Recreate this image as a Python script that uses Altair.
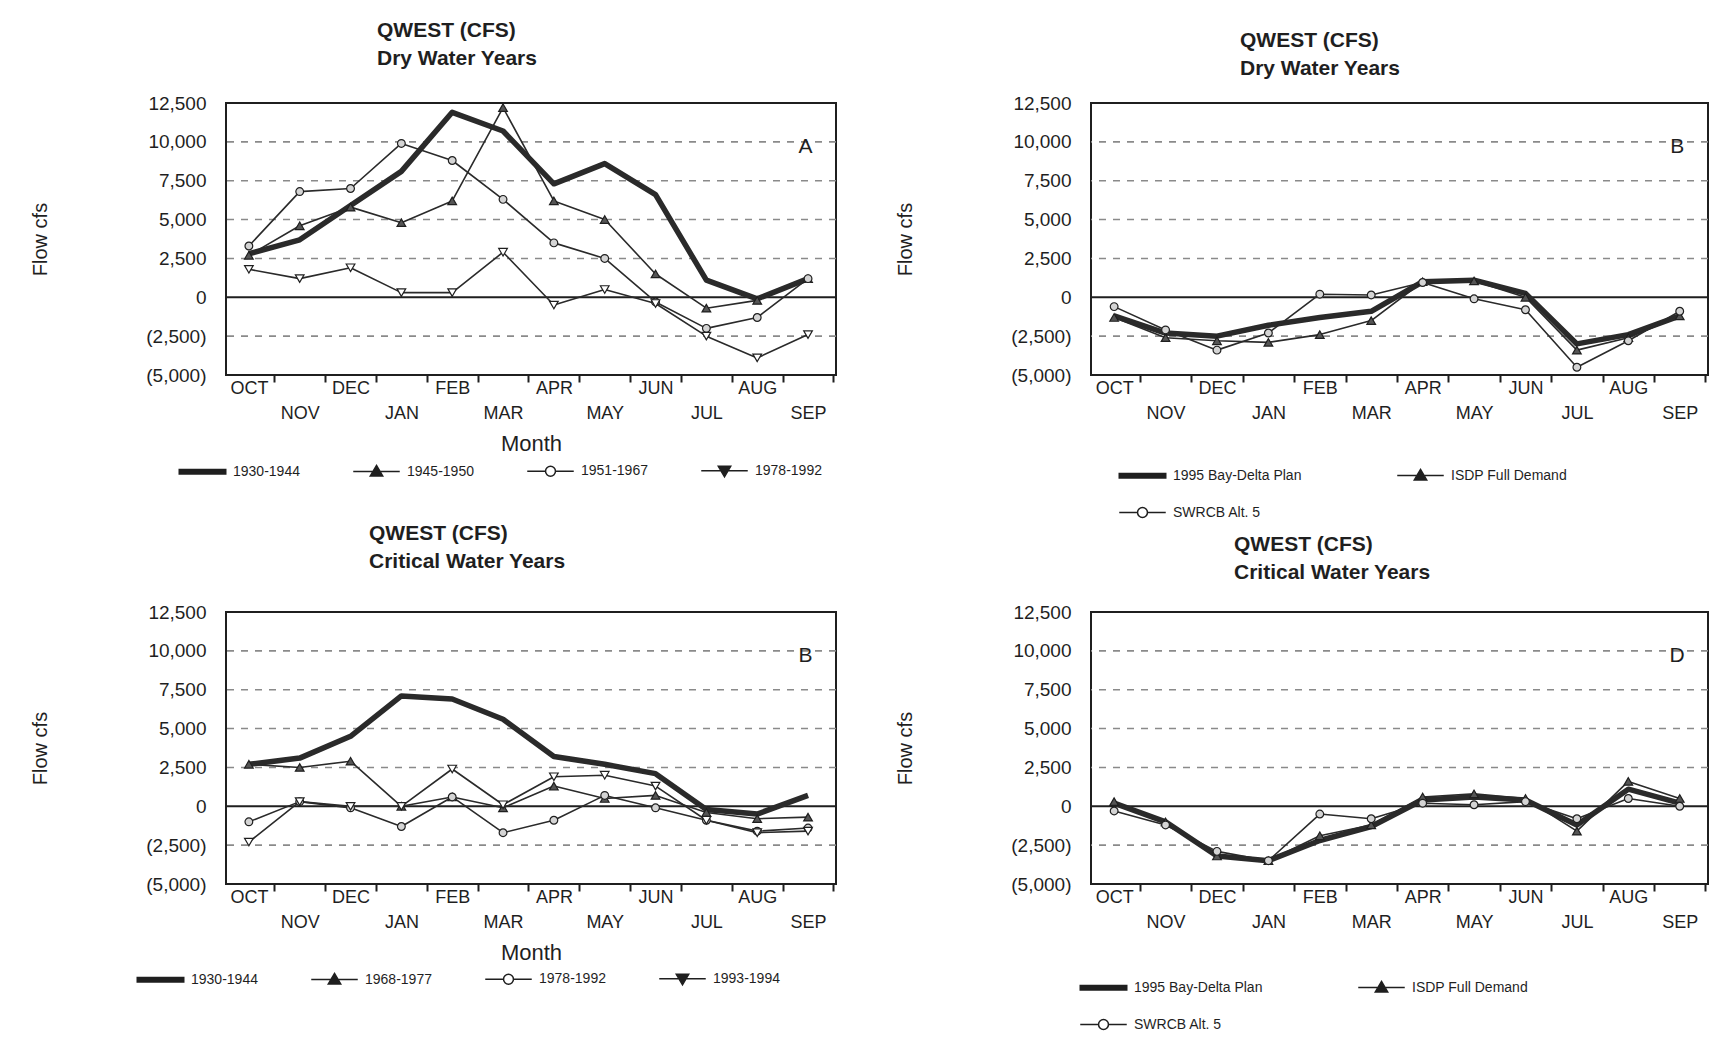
import altair as alt
import pandas as pd

MONTHS = ["OCT", "NOV", "DEC", "JAN", "FEB", "MAR", "APR", "MAY", "JUN", "JUL", "AUG", "SEP"]
Y_TICKS = [-5000, -2500, 0, 2500, 5000, 7500, 10000, 12500]
GRID_LINES = [-2500, 2500, 5000, 7500, 10000]
ZERO_LINE = [0]

A_SERIES = ["1930-1944", "1945-1950", "1951-1967", "1978-1992"]
A_1930_1944 = [2800, 3700, 5900, 8100, 11900, 10700, 7300, 8600, 6600, 1100, -100, 1200]
A_1945_1950 = [2700, 4600, 5800, 4800, 6200, 12200, 6200, 5000, 1500, -700, -200, 1200]
A_1951_1967 = [3300, 6800, 7000, 9900, 8800, 6300, 3500, 2500, -300, -2000, -1300, 1200]
A_1978_1992 = [1800, 1200, 1900, 300, 300, 2900, -500, 500, -400, -2500, -3900, -2400]

B_SERIES = ["1995 Bay-Delta Plan", "ISDP Full Demand", "SWRCB Alt. 5"]
B_BAY_DELTA = [-1200, -2300, -2500, -1800, -1300, -900, 1000, 1100, 250, -3000, -2400, -1200]
B_ISDP = [-1300, -2600, -2800, -2900, -2400, -1500, 1000, 1050, 0, -3400, -2600, -1200]
B_SWRCB = [-600, -2100, -3400, -2300, 200, 150, 950, -100, -800, -4500, -2800, -900]

C_SERIES = ["1930-1944", "1968-1977", "1978-1992", "1993-1994"]
C_1930_1944 = [2700, 3100, 4500, 7100, 6900, 5600, 3200, 2700, 2100, -200, -500, 700]
C_1968_1977 = [2700, 2500, 2900, 0, 600, -100, 1300, 500, 700, -400, -800, -700]
C_1978_1992 = [-1000, 300, -100, -1300, 600, -1700, -900, 700, -100, -900, -1600, -1400]
C_1993_1994 = [-2300, 300, 0, 0, 2400, 100, 1900, 2000, 1300, -900, -1700, -1600]

D_SERIES = ["1995 Bay-Delta Plan", "ISDP Full Demand", "SWRCB Alt. 5"]
D_BAY_DELTA = [200, -1000, -3200, -3500, -2200, -1300, 400, 600, 400, -1200, 1100, 200]
D_ISDP = [300, -1000, -3200, -3500, -1900, -1200, 600, 800, 500, -1600, 1600, 500]
D_SWRCB = [-300, -1200, -2900, -3500, -500, -800, 200, 100, 300, -800, 500, 0]

FONT = "Liberation Sans"
INK = "#1f1f1f"

# legend symbols (custom paths in Vega's -1..1 symbol box) and on-chart marker styles
LEGEND_PATH = {
    "bar": "M-1.5,-0.14H1.5V0.14H-1.5Z",
    "tri_up": "M-1.5,0H1.5M0,-0.4L0.4,0.28L-0.4,0.28Z",
    "circle": "M-1.5,0H-0.32M0.32,0H1.5M-0.32,0A0.32,0.32,0,1,1,0.32,0A0.32,0.32,0,1,1,-0.32,0Z",
    "tri_down": "M-1.5,0H1.5M-0.4,-0.28L0.4,-0.28L0,0.4Z",
}
LEGEND_FILL = {"bar": INK, "tri_up": INK, "circle": "white", "tri_down": INK}
LEGEND_SYMBOL_SIZE = 961
MARKER = {
    "tri_up": dict(shape="triangle-up", fill="#555555", size=75),
    "circle": dict(shape="circle", fill="#d4d4d4", size=60),
    "tri_down": dict(shape="triangle-down", fill="white", size=75),
}
LINE_WIDTH = {"bar": 5.5, "tri_up": 1.6, "circle": 1.6, "tri_down": 1.6}

MONTH_ARR = "[" + ",".join("'" + m + "'" for m in MONTHS) + "]"
Y_LABEL_EXPR = ("datum.value < 0 ? '(' + format(-datum.value, ',') + ')' "
                ": format(datum.value, ',')")


def panel(series, values, kinds, letter, subtitle, width, height,
          title_dx, title_offset, leg_x, leg_y, leg_cols, leg_colpad, x_title):
    rows = []
    for name, vals in zip(series, values):
        for i, v in enumerate(vals):
            rows.append({"series": name, "idx": i, "value": v})
    data = pd.DataFrame(rows)

    x_scale = alt.Scale(domain=[-0.45, 11.55], nice=False, zero=False)
    y_scale = alt.Scale(domain=[-5000, 12500], nice=False, zero=False)
    unit = width / 12.0

    x_axis_kw = dict(
        values=list(range(12)),
        labelExpr="datum.value % 2 == 1 ? ['', " + MONTH_ARR + "[datum.value]] : "
                  + MONTH_ARR + "[datum.value]",
        labelFont=FONT, labelFontSize=18, labelColor=INK, labelLineHeight=25,
        labelPadding=-3, labelOverlap=False, labelFlush=False, labelAngle=0,
        tickSize=7, tickWidth=2, tickColor=INK,
        tickOffset=unit / 2, labelOffset=-unit / 2,
        domain=False, grid=False,
    )
    if x_title:
        x_axis = alt.Axis(title="Month", titleFont=FONT, titleFontSize=22,
                          titleFontWeight="normal", titleColor=INK, titlePadding=11,
                          **x_axis_kw)
    else:
        x_axis = alt.Axis(title=None, **x_axis_kw)

    y_axis = alt.Axis(
        title="Flow cfs", titleFont=FONT, titleFontSize=20, titleFontWeight="normal",
        titleColor=INK, titlePadding=95,
        values=Y_TICKS, labelExpr=Y_LABEL_EXPR, labelFont=FONT, labelFontSize=19,
        labelColor=INK, labelPadding=20, ticks=False, domain=False, grid=False,
    )

    X = alt.X("idx:Q", scale=x_scale, axis=x_axis)
    Y = alt.Y("value:Q", scale=y_scale, axis=y_axis)

    base = alt.Chart(data)

    grid = alt.Chart(pd.DataFrame({"value": GRID_LINES})).mark_rule(
        strokeDash=[7, 7], color="#8a8a8a", strokeWidth=1.6
    ).encode(y=Y)

    zero = alt.Chart(pd.DataFrame({"value": ZERO_LINE})).mark_rule(
        color=INK, strokeWidth=2
    ).encode(y=Y)

    layers = [grid, zero]
    for name, kind in zip(series, kinds):
        layers.append(
            base.transform_filter(alt.datum.series == name).mark_line(
                color="#2a2a2a", strokeJoin="round", strokeWidth=LINE_WIDTH[kind]
            ).encode(x=X, y=Y, order="idx:Q")
        )
    for name, kind in zip(series, kinds):
        if kind in MARKER:
            m = MARKER[kind]
            layers.append(
                base.transform_filter(alt.datum.series == name).mark_point(
                    shape=m["shape"], filled=True, fill=m["fill"], stroke=INK,
                    strokeWidth=1.2, size=m["size"], opacity=1
                ).encode(x=X, y=Y)
            )

    letter_layer = alt.Chart(
        pd.DataFrame({"idx": [10.95], "value": [9700], "t": [letter]})
    ).mark_text(font=FONT, fontSize=21, color=INK, baseline="middle", align="center").encode(
        x=X, y=Y, text="t:N",
    )
    layers.append(letter_layer)

    legend = alt.Legend(
        orient="none", legendX=leg_x, legendY=leg_y, direction="horizontal",
        columns=leg_cols, title=None, symbolSize=LEGEND_SYMBOL_SIZE, symbolStrokeColor=INK,
        symbolStrokeWidth=1.5, symbolOpacity=1, labelFont=FONT, labelFontSize=14,
        labelColor=INK, labelOffset=14, columnPadding=leg_colpad, rowPadding=13,
        labelLimit=400,
    )
    n = len(series)
    legend_layer = alt.Chart(pd.DataFrame({"series": series})).transform_filter(
        "false"
    ).mark_point(filled=True, strokeWidth=1.5, opacity=1).encode(
        shape=alt.Shape("series:N",
                        scale=alt.Scale(domain=series, range=[LEGEND_PATH[k] for k in kinds]),
                        legend=legend),
        fill=alt.Fill("series:N",
                      scale=alt.Scale(domain=series, range=[LEGEND_FILL[k] for k in kinds]),
                      legend=legend),
        stroke=alt.Stroke("series:N",
                          scale=alt.Scale(domain=series, range=[INK] * n),
                          legend=legend),
        size=alt.Size("series:O",
                      scale=alt.Scale(domain=series, range=[LEGEND_SYMBOL_SIZE] * n),
                      legend=legend),
    )
    layers.append(legend_layer)

    return alt.layer(*layers).properties(
        width=width, height=height,
        title=alt.TitleParams(
            text=["QWEST (CFS)", subtitle], anchor="start", frame="group",
            dx=title_dx, offset=title_offset, font=FONT, fontSize=21,
            fontWeight="bold", lineHeight=28, color=INK,
        ),
    )


KINDS4 = ["bar", "tri_up", "circle", "tri_down"]
KINDS3 = ["bar", "tri_up", "circle"]

pA = panel(A_SERIES, [A_1930_1944, A_1945_1950, A_1951_1967, A_1978_1992], KINDS4,
           "A", "Dry Water Years", 610, 272, 151, 25, -40, 351, 4, 50, True)
pB = panel(B_SERIES, [B_BAY_DELTA, B_ISDP, B_SWRCB], KINDS3,
           "B", "Dry Water Years", 617, 272, 149, 15, 35, 356, 2, 92, False)
pC = panel(C_SERIES, [C_1930_1944, C_1968_1977, C_1978_1992, C_1993_1994], KINDS4,
           "B", "Critical Water Years", 610, 272, 143, 31, -82, 350, 4, 50, True)
pD = panel(D_SERIES, [D_BAY_DELTA, D_ISDP, D_SWRCB], KINDS3,
           "D", "Critical Water Years", 617, 272, 143, 20, -4, 359, 2, 92, False)

chart = alt.concat(pA, pB, pC, pD, columns=2, spacing={"row": 0, "column": 56}).resolve_scale(
    shape="independent", fill="independent", stroke="independent", size="independent"
).resolve_legend(
    shape="independent", fill="independent", stroke="independent", size="independent"
).properties(
    padding={"left": 21, "top": 11, "right": 5, "bottom": 5}
).configure_view(stroke=INK, strokeWidth=2)

chart.save("out.html", embed_options={"renderer": "svg", "actions": False})
